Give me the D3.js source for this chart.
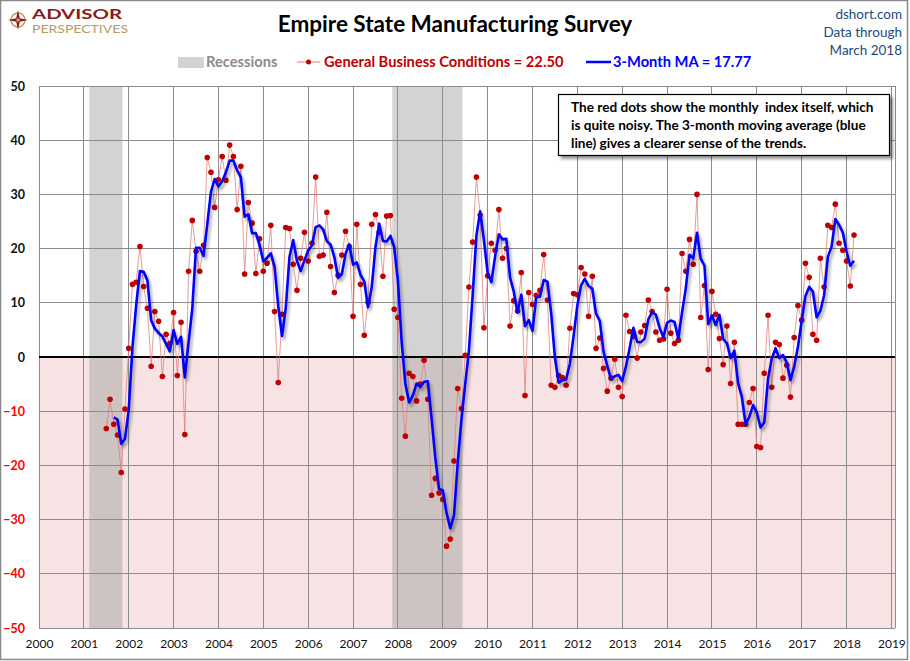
<!DOCTYPE html>
<html><head><meta charset="utf-8">
<script src="https://cdn.jsdelivr.net/npm/d3@7"></script>
<style>
body{margin:0;background:#fff}
svg{display:block}
text{font-family:Lato,'Open Sans','DejaVu Sans',sans-serif}
</style>
</head><body>
<svg id="chart" width="910" height="661"></svg>
<script>
// ---------- DATA ----------
const firstYear = 2001, firstMonth = 7; // July 2001
const generalBusiness = [
  // 2001 Jul-Dec
  -13.2, -7.8, -12.4, -14.4, -21.3, -9.6,
  // 2002
  1.6, 13.4, 13.8, 20.4, 13.0, 9.0, -1.7, 8.4, 6.6, -3.6, 4.2, 2.5,
  // 2003
  8.2, -3.4, 6.4, -14.3, 15.8, 25.2, 19.5, 15.8, 20.6, 36.8, 34.1, 27.6,
  // 2004
  32.7, 37.0, 32.6, 39.1, 37.0, 27.2, 35.2, 15.3, 28.5, 24.7, 15.4, 21.8,
  // 2005
  15.8, 17.3, 24.3, 8.4, -4.7, 7.9, 23.9, 23.7, 17.1, 12.3, 18.2, 23.0,
  // 2006
  17.7, 21.0, 33.2, 18.6, 18.8, 26.7, 16.7, 11.9, 15.1, 18.8, 23.2, 20.4,
  // 2007
  7.5, 24.5, 13.4, 4.0, 10.1, 24.5, 26.3, 23.0, 14.9, 26.0, 26.1, 8.8,
  // 2008
  7.3, -7.6, -14.6, -3.0, -3.6, -8.1, -5.0, -0.6, -7.8, -25.5, -22.4, -25.1,
  // 2009
  -26.3, -34.9, -33.6, -19.2, -5.8, -9.5, 0.3, 12.9, 21.2, 33.2, 26.2, 5.4,
  // 2010
  15.0, 21.0, 19.7, 27.2, 18.2, 20.0, 5.7, 10.4, 8.5, 15.6, -7.1, 11.9,
  // 2011
  9.7, 11.4, 12.3, 18.9, 10.5, -5.2, -5.6, -3.4, -3.8, -5.2, 5.3, 11.7,
  // 2012
  11.5, 16.5, 15.3, 7.5, 14.9, 1.6, 3.5, -2.1, -6.3, -3.9, -0.4, -5.6,
  // 2013
  -7.3, 7.7, 4.7, 3.8, -0.2, 4.6, 5.8, 10.5, 8.4, 4.6, 3.1, 3.3,
  // 2014
  12.5, 4.4, 2.5, 3.1, 19.1, 15.8, 21.7, 17.1, 30.0, 7.3, 13.2, -2.3,
  // 2015
  12.1, 7.9, 3.4, -1.4, 5.7, -4.9, 2.7, -12.4, -12.4, -12.4, -8.4, -5.8,
  // 2016
  -16.5, -16.7, -3.0, 7.7, -5.6, 2.7, 2.3, -3.9, -1.5, -7.4, 3.6, 9.5,
  // 2017
  6.8, 17.3, 14.7, 4.2, 3.1, 18.2, 12.9, 24.3, 23.9, 28.2, 21.0, 19.7,
  // 2018 Jan-Mar
  17.7, 13.1, 22.5
];
const recessionStarts = [2001.12, 2007.875];
const recessionEnds   = [2001.86, 2009.44];
const yearTicks = d3.range(2000, 2020);
const valueTicks = [-50, -40, -30, -20, -10, 0, 10, 20, 30, 40, 50];
const titleText = "Empire State Manufacturing Survey";
const sourceLines = ["dshort.com", "Data through", "March 2018"];
const noteLines = [
  "The red dots show the monthly  index itself, which",
  "is quite noisy. The 3-month moving average (blue",
  "line) gives a clearer sense of the trends."
];

// derived: dates and 3-month moving average
const points = generalBusiness.map((v, i) => {
  const m = firstMonth - 1 + i;
  return { t: firstYear + m / 12, v: v };
});
const ma = points.slice(2).map((p, i) => ({
  t: p.t,
  v: d3.mean(generalBusiness.slice(i, i + 3))
}));
const lastGB = generalBusiness[generalBusiness.length - 1];
const lastMA = ma[ma.length - 1].v;

// ---------- LAYOUT ----------
const svg = d3.select("#chart");
const L = 39, R = 895, T = 86, B = 628;
const x = d3.scaleLinear().domain([2000, 2019.08]).range([L, R]);
const y = d3.scaleLinear().domain([-50, 50]).range([B, T]);

const defs = svg.append("defs");
const sh = defs.append("filter").attr("id", "shadow").attr("x", "-5%").attr("y", "-5%").attr("width", "115%").attr("height", "120%");
sh.append("feDropShadow").attr("dx", 2).attr("dy", 3).attr("stdDeviation", 1.4)
  .attr("flood-color", "#000").attr("flood-opacity", 0.35);
const sh2 = defs.append("filter").attr("id", "boxshadow").attr("x", "-5%").attr("y", "-10%").attr("width", "115%").attr("height", "140%");
sh2.append("feDropShadow").attr("dx", 3).attr("dy", 3).attr("stdDeviation", 1.5)
  .attr("flood-color", "#000").attr("flood-opacity", 0.4);

// outer border
svg.append("rect").attr("x", 0.5).attr("y", 0.5).attr("width", 907).attr("height", 659)
  .attr("fill", "#fff").attr("stroke", "#8a8a8a").attr("stroke-width", 1.5);

// negative zone
svg.append("rect").attr("x", L).attr("y", y(0)).attr("width", R - L).attr("height", y(-50) - y(0))
  .attr("fill", "#f7e3e3");

// recessions
svg.append("g").selectAll("rect").data(recessionStarts).join("rect")
  .attr("x", (d) => x(d)).attr("y", T)
  .attr("width", (d, i) => x(recessionEnds[i]) - x(d)).attr("height", B - T)
  .attr("fill", "rgb(150,150,150)").attr("fill-opacity", 0.42);

// gridlines
const grid = svg.append("g").attr("stroke", "#8c8c8c").attr("stroke-width", 1).attr("shape-rendering", "crispEdges");
grid.selectAll("line.v").data(yearTicks).join("line").attr("class", "v")
  .attr("x1", (d) => x(d)).attr("x2", (d) => x(d)).attr("y1", T).attr("y2", B);
grid.selectAll("line.h").data(valueTicks).join("line").attr("class", "h")
  .attr("x1", L).attr("x2", R).attr("y1", (d) => y(d)).attr("y2", (d) => y(d));
grid.append("line").attr("x1", R).attr("x2", R).attr("y1", T).attr("y2", B);

// zero line
svg.append("line").attr("x1", L).attr("x2", R).attr("y1", y(0)).attr("y2", y(0))
  .attr("stroke", "#000").attr("stroke-width", 2);

// y axis labels
const yAxis = d3.axisLeft(y).tickValues(valueTicks).tickSize(0).tickPadding(0);
const yg = svg.append("g").attr("transform", `translate(${L - 14},0)`).call(yAxis);
yg.select(".domain").remove();
yg.selectAll("text").attr("font-size", 12.5).attr("font-weight", "bold")
  .attr("font-family", "Lato, sans-serif")
  .attr("fill", (d) => d < 0 ? "#ff0000" : "#111");

// x axis labels
const xAxis = d3.axisBottom(x).tickValues(yearTicks).tickFormat(d3.format("d")).tickSize(0).tickPadding(0);
const xg = svg.append("g").attr("transform", `translate(0,${B + 11})`).call(xAxis);
xg.select(".domain").remove();
xg.selectAll("text").attr("font-size", 12).attr("font-family", "Lato, sans-serif").attr("fill", "#111");

// red monthly series
const line = d3.line().x((d) => x(d.t)).y((d) => y(d.v));
svg.append("path").datum(points).attr("d", line)
  .attr("fill", "none").attr("stroke", "#e07a7a").attr("stroke-opacity", 0.75).attr("stroke-width", 1);
svg.append("g").selectAll("circle").data(points).join("circle")
  .attr("cx", (d) => x(d.t)).attr("cy", (d) => y(d.v)).attr("r", 2.8)
  .attr("fill", "#c00000");

// blue MA
svg.append("path").datum(ma).attr("d", line)
  .attr("fill", "none").attr("stroke", "#0000ff").attr("stroke-width", 2.6)
  .attr("stroke-linejoin", "round").attr("filter", "url(#shadow)");

// annotation box
const nb = svg.append("g");
nb.append("rect").attr("x", 558.5).attr("y", 94.5).attr("width", 331).attr("height", 61)
  .attr("fill", "#fff").attr("stroke", "#000").attr("stroke-width", 1.2).attr("filter", "url(#boxshadow)");
nb.selectAll("text").data(noteLines).join("text")
  .attr("x", 571).attr("y", (d, i) => 112 + i * 18)
  .attr("font-size", 13.6).attr("font-weight", "bold").attr("fill", "#000")
  .style("white-space", "pre").text((d) => d);

// title
svg.append("text").attr("x", 455).attr("y", 32).attr("text-anchor", "middle")
  .attr("font-size", 22.5).attr("font-weight", "bold").attr("fill", "#000").text(titleText);

// source text
svg.append("g").selectAll("text").data(sourceLines).join("text")
  .attr("x", 902).attr("y", (d, i) => 19 + i * 18).attr("text-anchor", "end")
  .attr("font-size", 13.5).attr("fill", "#1f497d").text((d) => d);

// logo
const logo = svg.append("g").attr("transform", "translate(18,20)");
logo.append("circle").attr("r", 7).attr("fill", "none").attr("stroke", "#b79a66").attr("stroke-width", 1.5);
logo.append("path").attr("d", "M0,-10 L1.8,-1.8 L10,0 L1.8,1.8 L0,10 L-1.8,1.8 L-10,0 L-1.8,-1.8 Z").attr("fill", "#8b1a1a");
logo.append("circle").attr("r", 1.8).attr("fill", "#c9a86a");
svg.append("text").attr("x", 32).attr("y", 19).attr("font-size", 14).attr("font-weight", "bold")
  .attr("fill", "#8b1a1a").attr("textLength", 90).attr("lengthAdjust", "spacingAndGlyphs").text("ADVISOR");
svg.append("text").attr("x", 32).attr("y", 33).attr("font-size", 12)
  .attr("fill", "#b79a66").attr("textLength", 96).attr("lengthAdjust", "spacingAndGlyphs").text("PERSPECTIVES");

// legend
const lg = svg.append("g").attr("font-size", 14.7).attr("font-weight", "bold");
lg.append("rect").attr("x", 178).attr("y", 57).attr("width", 26).attr("height", 11).attr("fill", "#d3d3d3");
lg.append("text").attr("x", 206).attr("y", 67).attr("fill", "#8c8c8c").text("Recessions");
lg.append("line").attr("x1", 297).attr("x2", 320).attr("y1", 62).attr("y2", 62).attr("stroke", "#e07a7a").attr("stroke-width", 1);
lg.append("circle").attr("cx", 308.5).attr("cy", 62).attr("r", 2.5).attr("fill", "#c00000");
lg.append("text").attr("x", 324).attr("y", 67).attr("fill", "#c00000")
  .text("General Business Conditions = " + lastGB.toFixed(2));
lg.append("line").attr("x1", 586).attr("x2", 611).attr("y1", 62).attr("y2", 62).attr("stroke", "#0000ff").attr("stroke-width", 2.5);
lg.append("text").attr("x", 613).attr("y", 67).attr("fill", "#0000ff")
  .text("3-Month MA = " + lastMA.toFixed(2));
</script>
</body></html>
